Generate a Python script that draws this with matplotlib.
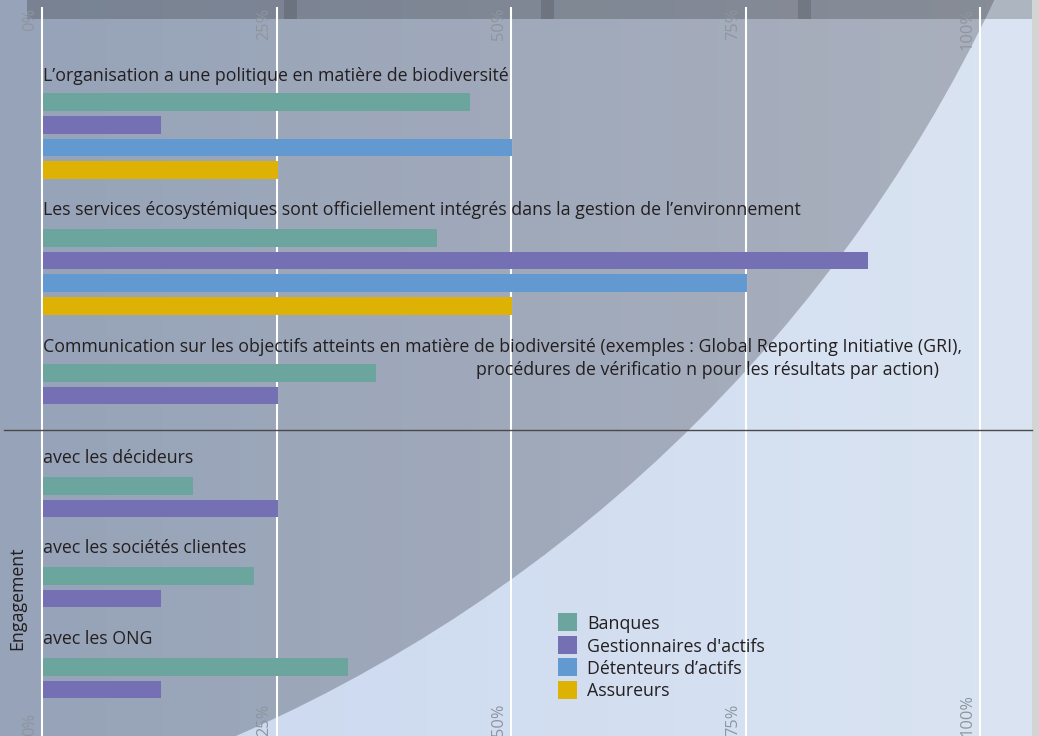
import numpy as np
import matplotlib
matplotlib.use("Agg")
import matplotlib.pyplot as plt
from matplotlib.patches import Circle, Rectangle
from matplotlib.colors import LinearSegmentedColormap

plt.rcParams["font.family"] = ["Open Sans", "DejaVu Sans"]

# ---- data ----
series = ["Banques", "Gestionnaires d'actifs", "Détenteurs d’actifs", "Assureurs"]
colors = ["#6ba59d", "#756fb3", "#6399d1", "#ddb205"]

questions = [
    "L’organisation a une politique en matière de biodiversité",
    "Les services écosystémiques sont officiellement intégrés dans la gestion de l’environnement",
    "Communication sur les objectifs atteints en matière de biodiversité (exemples : Global Reporting Initiative (GRI),",
]
question3_line2 = "procédures de vérificatio n pour les résultats par action)"
question_values = [
    [45.5, 12.5, 50, 25],
    [42, 88, 75, 50],
    [35.5, 25],
]

engagement_title = "Engagement"
engagement = ["avec les décideurs", "avec les sociétés clientes", "avec les ONG"]
eng_banques = [16, 22.5, 32.5]
eng_gestion = [25, 12.5, 12.5]

ticks = [0, 25, 50, 75, 100]
tick_labels = ["0%", "25%", "50%", "75%", "100%"]

# ---- layout (pixels) ----
W, H = 1039, 736
x0 = 42.5          # pixel of 0 %
ppp = 9.375        # pixels per percent
bar_h = 17.7
pitch = 22.7
q_label_y = [80.7, 215, 351.7]
q_bar_top = [93.3, 229, 364]
e_label_y = [463.3, 553.3, 644]
e_bar_top = [477, 567, 658]
fs = 12.8
txt = "#231f20"
tick_col = "#8f959e"

fig = plt.figure(figsize=(W / 100, H / 100), dpi=100)

# background axes, pixel units
bg = fig.add_axes([0, 0, 1, 1])
bg.set_xlim(0, W)
bg.set_ylim(H, 0)
bg.set_axis_off()

grad = np.linspace(0, 1, 256).reshape(1, -1)
light = LinearSegmentedColormap.from_list("light", ["#c9d7ef", "#dae4f2"])
dark = LinearSegmentedColormap.from_list("dark", ["#96a3b8", "#aab0bd"])
bg.imshow(grad, extent=[0, W, H, 0], cmap=light, aspect="auto", zorder=0)
circ = Circle((-367, -644), 1506, transform=bg.transData, facecolor="none", edgecolor="none")
bg.add_patch(circ)
im = bg.imshow(grad, extent=[0, W, H, 0], cmap=dark, aspect="auto", zorder=1)
im.set_clip_path(circ)

bg.add_patch(Rectangle((1032, 0), W - 1032, H, facecolor="#d4d4d4", edgecolor="none", zorder=2))
bg.add_patch(Rectangle((27, 0), 1005, 18.7, facecolor="black", alpha=0.2, edgecolor="none", zorder=2))
for xs in [284, 541, 798]:
    bg.add_patch(Rectangle((xs, 0), 13, 18.7, facecolor="black", alpha=0.13, edgecolor="none", zorder=2))

# data axes: x in percent, y in pixels
ax = fig.add_axes([0, 0, 1, 1], zorder=1)
ax.set_xlim(-x0 / ppp, (W - x0) / ppp)
ax.set_ylim(H, 0)
ax.set_axis_off()
ax.patch.set_alpha(0)

ax.vlines(ticks, 7, H, color="white", lw=1.5, zorder=1)

for top, vals in zip(q_bar_top, question_values):
    for i, v in enumerate(vals):
        ax.barh(top + i * pitch + bar_h / 2, v, height=bar_h, left=0.1,
                color=colors[i], zorder=2)
for top, b, g in zip(e_bar_top, eng_banques, eng_gestion):
    ax.barh(top + bar_h / 2, b, height=bar_h, left=0.1, color=colors[0], zorder=2)
    ax.barh(top + pitch + bar_h / 2, g, height=bar_h, left=0.1, color=colors[1], zorder=2)

# tick labels top and bottom
for t, lab in zip(ticks, tick_labels):
    ax.text(t - 0.45, 8, lab, rotation=90, ha="right", va="top",
            fontsize=11.8, color=tick_col, zorder=3)
    ax.text(t - 0.45, 736, lab, rotation=90, ha="right", va="bottom",
            fontsize=11.8, color=tick_col, zorder=3)

# category labels
for y, q in zip(q_label_y, questions):
    ax.text(0.05, y, q, ha="left", va="baseline", fontsize=fs, color=txt, zorder=3)
ax.text((476 - x0) / ppp, 375, question3_line2, ha="left", va="baseline",
        fontsize=fs, color=txt, zorder=3)
for y, e in zip(e_label_y, engagement):
    ax.text(0.05, y, e, ha="left", va="baseline", fontsize=fs, color=txt, zorder=3)

ax.text(-x0 / ppp + 17 / ppp, 598, engagement_title, rotation=90, ha="center",
        va="center", fontsize=fs, color=txt, zorder=3)

# separator line
ax.plot([(4 - x0) / ppp, (1032 - x0) / ppp], [430, 430], color="#4a4a4a", lw=1.0, zorder=4)

# legend
for i, (name, c) in enumerate(zip(series, colors)):
    top = 613 + i * 22.5
    ax.add_patch(Rectangle(((558 - x0) / ppp, top), 19 / ppp, 18, facecolor=c,
                           edgecolor="none", zorder=3))
    ax.text((587 - x0) / ppp, top + 16, name, ha="left", va="baseline",
            fontsize=fs, color=txt, zorder=3)

fig.savefig("out.png", dpi=100)
